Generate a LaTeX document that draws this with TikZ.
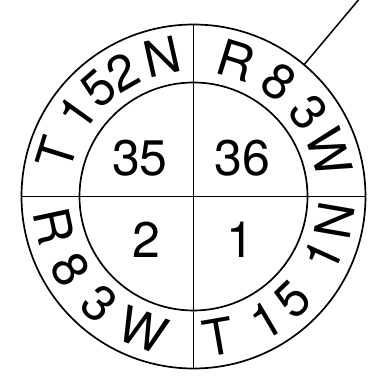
\documentclass[tikz,border=0pt]{standalone}
\usepackage{fontspec}
\setmainfont{TeX Gyre Heros}
\usetikzlibrary{calc}
\begin{document}
\begin{tikzpicture}[x=1pt,y=1pt,
  ring/.style={line width=1.7pt},
  big/.style={inner sep=0pt,font=\fontsize{50}{50}\selectfont},
  arcch/.style={inner sep=0pt,font=\fontsize{50}{50}\selectfont}]
\useasboundingbox (0,0) rectangle (392,383);
\coordinate (c) at (193.5,186.5);
\draw[ring] (c) circle (172);
\draw[ring] (c) circle (114);
\path (c) ++(0,172) coordinate (t) (c) ++(0,-172) coordinate (b)
      (c) ++(-172,0) coordinate (l) (c) ++(172,0) coordinate (r);
\draw[ring] (t) -- (b);
\draw[ring] (l) -- (r);
\path (c) ++(50:172) coordinate (p1) (c) ++(50:260) coordinate (p2);
\draw[line width=1.5pt] (p1) -- (p2);
\node[big] (n35) at (140,225) {35};
\node[big] (n36) at (242,225) {36};
\node[big] (n2) at (146,143) {2};
\node[big] (n1) at (240,143) {1};
\foreach \a/\ch in {162.6/T,144.4/1,131.3/5,119.7/2,102.6/N,72.7/R,53.4/8,36.2/3,18/W}
  \node[arcch,rotate=\a-90] at ($(c)+(\a:143)$) {\ch};
\foreach \a/\ch in {192/R,210.8/8,228.6/3,249.3/W,279.9/T,300.5/1,314/5,335.5/1,350.2/N}
  \node[arcch,rotate=\a+90] at ($(c)+(\a:143)$) {\ch};
\end{tikzpicture}
\end{document}
